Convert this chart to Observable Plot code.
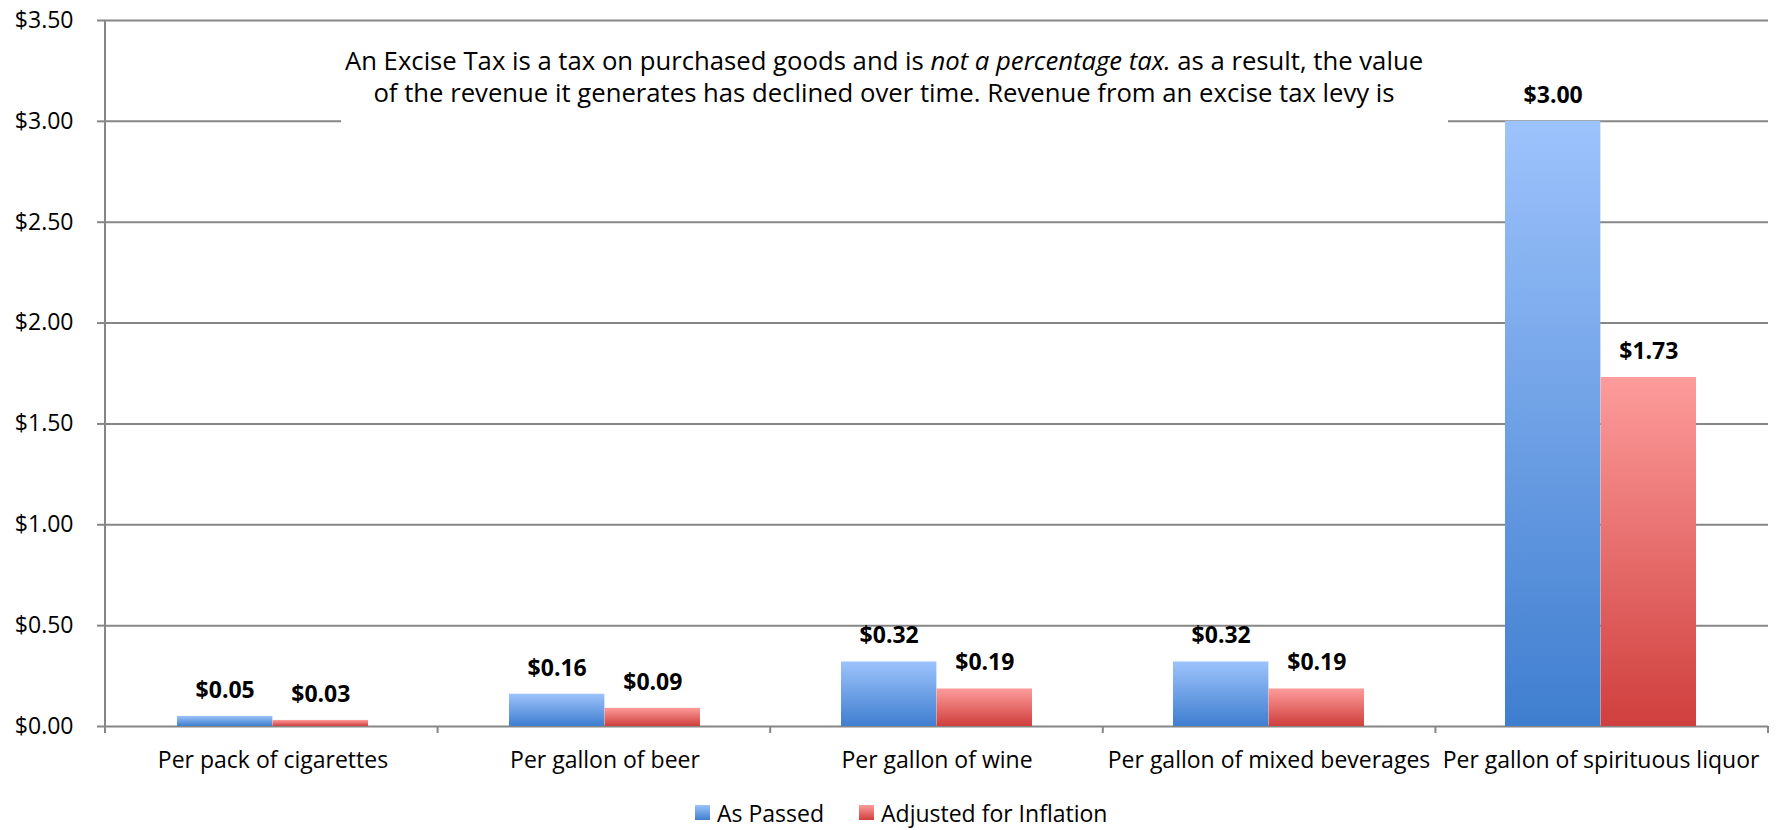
<!DOCTYPE html>
<html>
<head>
<meta charset="utf-8">
<script src="https://cdn.jsdelivr.net/npm/d3@7"></script>
<script src="https://cdn.jsdelivr.net/npm/@observablehq/plot@0.6"></script>
<style>
  html, body { margin: 0; padding: 0; background: #fff; }
  body { width: 1780px; height: 830px; overflow: hidden; font-family: "Open Sans", sans-serif; }
  #chart svg { display: block; }
  #legend { display: flex; align-items: center; height: 35px; padding-left: 695px; font-size: 23px; color: #000; }
  #legend .item { display: flex; align-items: center; margin-right: 35px; }
  #legend .sw { width: 15px; height: 15px; margin-right: 7px; }
</style>
</head>
<body>
<div id="chart"></div>
<div id="legend"></div>
<script>
// ---- data ----
const categories = [
  "Per pack of cigarettes",
  "Per gallon of beer",
  "Per gallon of wine",
  "Per gallon of mixed beverages",
  "Per gallon of spirituous liquor"
];
const series = ["As Passed", "Adjusted for Inflation"];
const asPassed = [0.05, 0.16, 0.32, 0.32, 3.00];
const adjusted = [0.03, 0.09, 0.186, 0.186, 1.73];
const yTicks = [0, 0.5, 1.0, 1.5, 2.0, 2.5, 3.0, 3.5];
const noteLine1 = ["An Excise Tax is a tax on purchased goods and is ", "not a percentage tax.", " as a result, the value"];
const noteLine2 = "of the revenue it generates has declined over time. Revenue from an excise tax levy is";

// ---- styles ----
const gradients = {
  blue: ["#9dc3fc", "#3f7ecf"],
  red: ["#fd9c9b", "#cf3f3d"]
};
const gridColor = "#868686";
const W = 1780, H = 795, ML = 105, MR = 12, MT = 20, MB = H - 726;
const padInner = 0.425;
const bandW = (W - ML - MR) / categories.length * (1 - padInner);
const noteWidth = 1078; // target width of first annotation line

const rows = categories.map((c, i) => ({category: c, asPassed: asPassed[i], adjusted: adjusted[i]}));
const fmt = v => "$" + v.toFixed(2);

const defsMark = () => {
  const g = d3.create("svg:defs");
  for (const [id, [top, bottom]] of Object.entries(gradients)) {
    const lg = g.append("linearGradient").attr("id", "grad-" + id)
      .attr("x1", 0).attr("y1", 0).attr("x2", 0).attr("y2", 1);
    lg.append("stop").attr("offset", "0%").attr("stop-color", top);
    lg.append("stop").attr("offset", "100%").attr("stop-color", bottom);
  }
  return g.node();
};

const axisLines = (index, scales, values, dims) => {
  const {width, height, marginLeft, marginRight, marginTop, marginBottom} = dims;
  const g = d3.create("svg:g").attr("stroke", gridColor).attr("stroke-width", 2);
  const y0 = height - marginBottom;
  const step = (width - marginLeft - marginRight) / categories.length;
  g.append("line").attr("x1", marginLeft).attr("x2", marginLeft).attr("y1", marginTop).attr("y2", y0 + 7);
  for (let k = 1; k <= categories.length; k++) {
    const x = marginLeft + k * step;
    g.append("line").attr("x1", x).attr("x2", x).attr("y1", y0).attr("y2", y0 + 7);
  }
  return g.node();
};

const noteMark = () => {
  const g = d3.create("svg:g").attr("class", "note");
  g.append("rect").attr("x", 341).attr("y", 24).attr("width", 1107).attr("height", 102).attr("fill", "#fff");
  const t = g.append("text").attr("text-anchor", "middle").attr("font-size", 24.8)
    .attr("fill", "#000").style("white-space", "pre");
  const l1 = t.append("tspan").attr("class", "l1").attr("x", 884).attr("y", 70);
  l1.append("tspan").text(noteLine1[0]);
  l1.append("tspan").attr("font-style", "italic").text(noteLine1[1]);
  l1.append("tspan").text(noteLine1[2]);
  t.append("tspan").attr("x", 884).attr("y", 102).text(noteLine2);
  return g.node();
};

const chart = Plot.plot({
  width: W, height: H,
  marginLeft: ML, marginRight: MR, marginTop: MT, marginBottom: MB,
  style: {fontFamily: "Open Sans", fontSize: "23px", color: "#000", background: "#fff", overflow: "visible"},
  x: {domain: categories, paddingInner: padInner, paddingOuter: padInner / 2, label: null},
  y: {domain: [0, 3.5], label: null},
  marks: [
    defsMark,
    Plot.gridY(yTicks, {stroke: gridColor, strokeOpacity: 1, strokeWidth: 2}),
    Plot.axisY(yTicks, {tickSize: 8, tickPadding: 24, tickFormat: fmt, stroke: gridColor, strokeWidth: 2, fill: "#000", fontSize: 23, label: null}),
    noteMark,
    Plot.barY(rows, {x: "category", y: "asPassed", fill: "url(#grad-blue)", insetRight: bandW / 2}),
    Plot.barY(rows, {x: "category", y: "adjusted", fill: "url(#grad-red)", insetLeft: bandW / 2}),
    Plot.text(rows, {x: "category", y: "asPassed", text: d => fmt(d.asPassed), dx: -bandW / 4, dy: -26, fontWeight: "bold", fontSize: 23, fill: "#000"}),
    Plot.text(rows, {x: "category", y: "adjusted", text: d => fmt(d.adjusted), dx: bandW / 4, dy: -26, fontWeight: "bold", fontSize: 23, fill: "#000"}),
    Plot.axisX({tickSize: 0, tickPadding: 25, fontSize: 23, fill: "#000", label: null}),
    axisLines
  ]
});
document.getElementById("chart").appendChild(chart);

// fit the annotation's first line to the reference width
{
  const textEl = chart.querySelector(".note text");
  const l1 = chart.querySelector(".note .l1");
  if (textEl && l1 && l1.getComputedTextLength) {
    const len = l1.getComputedTextLength();
    if (len > 0) {
      const fs = 24.8 * noteWidth / len;
      textEl.setAttribute("font-size", fs.toFixed(2));
    }
  }
}

// legend
const legend = d3.select("#legend");
const swatchGrad = [gradients.blue, gradients.red];
series.forEach((s, i) => {
  const item = legend.append("div").attr("class", "item");
  item.append("div").attr("class", "sw")
    .style("background", `linear-gradient(${swatchGrad[i][0]}, ${swatchGrad[i][1]})`);
  item.append("span").text(s);
});
</script>
</body>
</html>
